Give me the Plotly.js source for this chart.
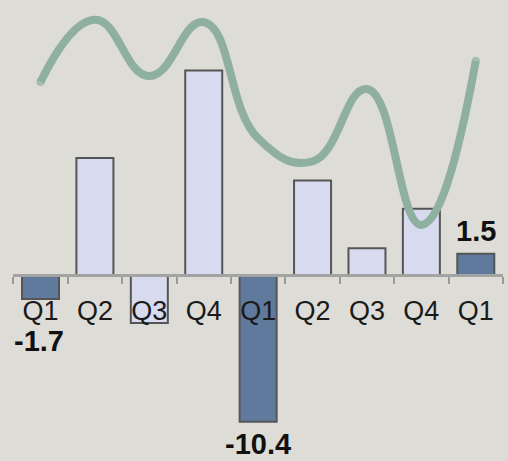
<!DOCTYPE html>
<html>
<head>
<meta charset="utf-8">
<script src="https://cdn.plot.ly/plotly-3.0.1.min.js"></script>
<style>
  html, body { margin: 0; padding: 0; background: #dddcd6; }
  #chart { width: 508px; height: 461px; }
</style>
</head>
<body>
<div id="chart"></div>
<script>
// Quarter labels and quarterly change values
const quarters = ['Q1', 'Q2', 'Q3', 'Q4', 'Q1', 'Q2', 'Q3', 'Q4', 'Q1'];
const changes = [-1.7, 8.3, -3.4, 14.5, -10.4, 6.7, 1.9, 4.7, 1.5];
// First quarter of each year is highlighted and labelled
const highlighted = [true, false, false, false, true, false, false, false, true];
// Trend line on its own hidden scale
const trend = [8.22, 9.57, 8.35, 9.52, 7.0, 6.5, 8.07, 5.12, 8.68];

const idx = quarters.map((_, i) => i);
// Tick marks sit on the boundaries between quarters
const boundaries = [-0.5].concat(idx.map(i => i + 0.5));

const barColors = highlighted.map(h => h ? '#607a9e' : '#d8daef');

const bars = {
  type: 'bar',
  x: idx,
  y: changes,
  marker: {
    color: barColors,
    line: { color: '#555555', width: 2 }
  },
  hoverinfo: 'skip',
  xaxis: 'x',
  yaxis: 'y'
};

// Round caps at both ends of the trend line
const capSizes = idx.map(i => (i === 0 || i === idx.length - 1) ? 8 : 0);

const line = {
  type: 'scatter',
  mode: 'lines+markers',
  x: idx,
  y: trend,
  line: { color: '#8fb0a0', width: 8, shape: 'spline', smoothing: 1.3 },
  marker: { color: '#8fb0a0', size: capSizes, line: { width: 0 } },
  hoverinfo: 'skip',
  xaxis: 'x',
  yaxis: 'y2'
};

// Value labels for the highlighted bars, placed from the bar values
const annotations = [];
idx.forEach(i => {
  if (!highlighted[i]) return;
  const v = changes[i];
  annotations.push({
    x: i,
    y: v,
    xref: 'x',
    yref: 'y',
    text: v.toFixed(1),
    showarrow: false,
    xanchor: 'center',
    yanchor: 'middle',
    yshift: v >= 0 ? 23 : (v < -5 ? -22 : -42),
    xshift: i === 0 ? -2 : 0,
    font: { family: 'Liberation Sans, Arial, sans-serif', size: 29, color: '#111111', weight: 'bold' }
  });
});

const yMin = -13.19, yMax = 19.50;
const zeroPos = (0 - yMin) / (yMax - yMin);

const layout = {
  width: 508,
  height: 461,
  margin: { l: 0, r: 0, t: 0, b: 0 },
  paper_bgcolor: '#dddcd6',
  plot_bgcolor: '#dddcd6',
  showlegend: false,
  bargap: 0.32,
  xaxis: {
    type: 'linear',
    range: [-0.5, 8.5],
    domain: [13.3 / 508, 503 / 508],
    anchor: 'free',
    position: zeroPos,
    tickmode: 'array',
    tickvals: idx,
    ticktext: quarters,
    ticks: '',
    minor: {
      tickmode: 'array',
      tickvals: boundaries,
      ticks: 'outside',
      ticklen: 7,
      tickwidth: 2,
      tickcolor: '#9a9a9a',
      showgrid: false
    },
    showline: true,
    linecolor: '#a3a3a3',
    linewidth: 3,
    showgrid: false,
    zeroline: false,
    automargin: false,
    ticklabelstandoff: 11,
    tickfont: { family: 'Liberation Sans, Arial, sans-serif', size: 27, color: '#1a1a1a' },
    layer: 'above traces'
  },
  yaxis: {
    range: [yMin, yMax],
    visible: false,
    showgrid: false,
    zeroline: false,
    automargin: false
  },
  yaxis2: {
    range: [0, 10],
    overlaying: 'y',
    visible: false,
    showgrid: false,
    zeroline: false,
    automargin: false
  },
  annotations: annotations
};

Plotly.newPlot('chart', [bars, line], layout, { staticPlot: true, displayModeBar: false });
</script>
</body>
</html>
